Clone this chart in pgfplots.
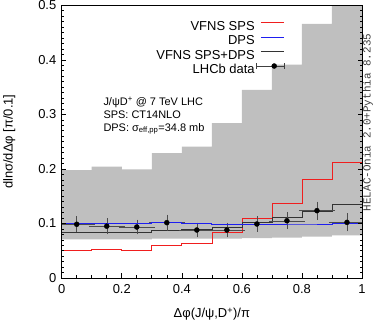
\documentclass[border=0pt]{standalone}
\usepackage{fontspec}
\setmainfont{Liberation Sans}
\newfontfamily\monofont{Liberation Mono}
\usepackage{pgfplots}
\pgfplotsset{compat=1.18}
\usepgfplotslibrary{fillbetween}
\definecolor{band}{RGB}{191,191,191}
\definecolor{sps}{RGB}{240,30,30}
\definecolor{dps}{RGB}{30,30,240}
\begin{document}
\begin{tikzpicture}
\begin{axis}[
  at={(0,0)}, anchor=south west,
  scale only axis, width=300.3bp, height=272.7bp,
  xmin=0, xmax=1, ymin=0, ymax=0.5,
  axis on top,
  axis line style={line width=0.8bp},
  tick style={black, line width=0.6bp},
  major tick length=4.5bp, minor tick length=2.5bp,
  tick align=inside,
  xtick={0,0.2,0.4,0.6,0.8,1}, minor x tick num=3,
  ytick={0,0.1,0.2,0.3,0.4,0.5}, minor y tick num=9,
  xtick pos=bottom, ytick pos=both,
  /pgf/number format/assume math mode=true,
  tick label style={font=\fontsize{13}{15}\selectfont},
  yticklabel style={inner sep=0pt, xshift=-5.2bp},
  xticklabel style={inner sep=0pt, yshift=-6.1bp},
  xlabel={Δφ(J/ψ,D\textsuperscript{+})/π},
  ylabel={dlnσ/dΔφ [π/0.1]},
  label style={font=\fontsize{13}{15}\selectfont},
  xlabel style={at={(axis description cs:0.5,-0.146)}, anchor=base},
  ylabel style={at={(axis description cs:-0.1638,0.5)}, anchor=base},
  legend plot pos=right,
  legend cell align=right,
  legend style={at={(axis description cs:0.7414,0.9534)}, anchor=north east,
    draw=none, fill=none, inner sep=0pt, outer sep=0pt,
    row sep=-0.5bp, column sep=1bp,
    font=\fontsize{13}{15}\selectfont,
    nodes={inner sep=0pt, outer sep=0pt, text height=9bp, text depth=3bp}},
  legend image code/.code={\path[draw=none, fill=none] (0bp,-3bp) rectangle (28bp,9bp);
    \draw[#1] (5bp,4.5bp) -- (28bp,4.5bp);},
]
% uncertainty band
\addplot[name path=up, const plot, draw=none, forget plot] coordinates {
 (0,0.198) (0.1,0.204) (0.2,0.199) (0.3,0.229) (0.4,0.241)
 (0.5,0.284) (0.6,0.345) (0.7,0.391) (0.8,0.466) (0.9,0.62) (1,0.62)};
\addplot[name path=lo, const plot, draw=none, forget plot] coordinates {
 (0,0.071) (0.1,0.071) (0.2,0.071) (0.3,0.072) (0.4,0.072)
 (0.5,0.072) (0.6,0.073) (0.7,0.074) (0.8,0.076) (0.9,0.078) (1,0.078)};
\addplot[band, forget plot] fill between[of=up and lo];

\addplot[const plot, sps, line width=0.7bp] coordinates {
 (0,0.051) (0.1,0.053) (0.2,0.050) (0.3,0.059) (0.4,0.063)
 (0.5,0.083) (0.6,0.110) (0.7,0.137) (0.8,0.180) (0.9,0.212) (1,0.212)};
\addlegendentry{VFNS SPS}
\addplot[const plot, black!80, line width=0.7bp, forget plot] coordinates {
 (0,0.084) (0.1,0.084) (0.2,0.084) (0.3,0.087) (0.4,0.089)
 (0.5,0.092) (0.6,0.102) (0.7,0.111) (0.8,0.123) (0.9,0.135) (1,0.135)};
\addplot[only marks, mark=*, mark size=2.5bp, black, forget plot,
  error bars/.cd, x dir=both, x explicit, y dir=both, y explicit,
  error bar style={black!70, line width=0.45bp},
  error mark options={black!70, line width=0.45bp, mark size=3bp}]
 table[x=x, y=y, x error=ex, y error=ey] {
 x    y      ex    ey
 0.05 0.0985 0.05  0.009
 0.15 0.095  0.05  0.009
 0.25 0.0935 0.05  0.008
 0.35 0.1015 0.05  0.009
 0.45 0.088  0.05  0.008
 0.55 0.088  0.05  0.008
 0.65 0.099  0.05  0.009
 0.75 0.105  0.05  0.010
 0.85 0.1235 0.05  0.011
 0.95 0.102  0.05  0.011
};
\addplot[const plot, dps, line width=0.85bp] coordinates {
 (0,0.100) (0.1,0.100) (0.2,0.100) (0.3,0.101) (0.4,0.100)
 (0.5,0.099) (0.6,0.098) (0.7,0.099) (0.8,0.099) (0.9,0.100) (1,0.100)};
\addlegendentry{DPS}
\addlegendimage{black!80, line width=0.7bp}
\addlegendentry{VFNS SPS+DPS}
\addlegendimage{legend image code/.code={
    \path[draw=none, fill=none] (0bp,-3bp) rectangle (28bp,9bp);
    \draw[black!75, line width=0.5bp] (0bp,4.5bp) -- (28bp,4.5bp);
    \draw[black!75, line width=0.5bp] (0bp,1.5bp) -- (0bp,7.5bp);
    \draw[black!75, line width=0.5bp] (28bp,1.5bp) -- (28bp,7.5bp);
    \fill[black] (18.3bp,4.5bp) circle (2.5bp);}}
\addlegendentry{LHCb data}
\node[anchor=base west, font=\fontsize{11}{13}\selectfont] at (axis description cs:0.1275,0.6322) {J/ψD\textsuperscript{+} @ 7 TeV LHC};
\node[anchor=base west, font=\fontsize{11}{13}\selectfont] at (axis description cs:0.1275,0.586) {SPS: CT14NLO};
\node[anchor=base west, font=\fontsize{11}{13}\selectfont] at (axis description cs:0.1275,0.5383) {DPS: σ\textsubscript{eff,pp}=34.8 mb};
\end{axis}
\node[rotate=90, font=\monofont\fontsize{11}{13}\selectfont, text=black!75] at (306bp,155.5bp) {HELAC-Onia 2.0+Pythia 8.235};
\pgfresetboundingbox
\path[use as bounding box] (-61.7bp,-44bp) rectangle (312.3bp,278bp);
\end{tikzpicture}
\end{document}
